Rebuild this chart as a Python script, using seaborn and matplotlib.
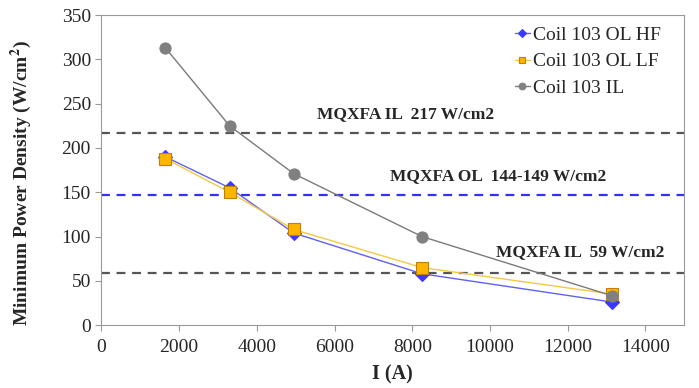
import matplotlib
matplotlib.use("Agg")
import matplotlib.pyplot as plt
import pandas as pd
import seaborn as sns

# Coil 103 minimum power density vs current
current = [1650, 3300, 4950, 8250, 13150]
ol_hf = [190, 155, 104, 58, 26]
ol_lf = [188, 150, 108, 65, 35]
il = [313, 225, 171, 100, 33]

series_names = ["Coil 103 OL HF", "Coil 103 OL LF", "Coil 103 IL"]
limits = [217, 147, 59]
limit_labels = ["MQXFA IL  217 W/cm2", "MQXFA OL  144-149 W/cm2", "MQXFA IL  59 W/cm2"]
limit_label_pos = [(7820, 238), (10200, 168), (12320, 82)]

df = pd.DataFrame({"I": current * 3,
                   "P": ol_hf + ol_lf + il,
                   "series": [n for n in series_names for _ in current]})

sns.set_style("white")
plt.rcParams["font.family"] = ["Liberation Serif", "DejaVu Serif"]
plt.rcParams["mathtext.fontset"] = "stix"

fig, ax = plt.subplots(figsize=(6.99, 3.88), dpi=100)
fig.subplots_adjust(left=0.145, right=0.979, top=0.961, bottom=0.162)

# reference lines
line_colors = ["#555555", "#3333ee", "#555555"]
for y, c in zip(limits, line_colors):
    ax.axhline(y, color=c, linestyle=(0, (4, 3)), linewidth=1.6, zorder=1)
for (x, y), t in zip(limit_label_pos, limit_labels):
    ax.text(x, y, t, ha="center", va="center", fontsize=12.5, fontweight="bold")

palette = {"Coil 103 OL HF": "#3a3aff", "Coil 103 OL LF": "#ffb400", "Coil 103 IL": "#808080"}
markers = {"Coil 103 OL HF": "D", "Coil 103 OL LF": "s", "Coil 103 IL": "o"}
line_cols = {"Coil 103 OL HF": "#6060ee", "Coil 103 OL LF": "#f5c842", "Coil 103 IL": "#7a7a7a"}

for name in series_names:
    sub = df[df["series"] == name]
    sns.lineplot(data=sub, x="I", y="P", ax=ax, color=line_cols[name], linewidth=1,
                 marker=markers[name], markersize=8 if name != "Coil 103 OL HF" else 7,
                 markerfacecolor=palette[name],
                 markeredgecolor="#c08000" if name == "Coil 103 OL LF" else palette[name],
                 markeredgewidth=0.8, label=name, zorder=3)

ax.set_xlim(0, 15000)
ax.set_ylim(0, 350)
ax.set_xticks(range(0, 15000, 2000))
ax.set_yticks(range(0, 351, 50))
ax.tick_params(axis="both", labelsize=14, length=4, color="#999999", direction="out")
ax.tick_params(axis="x", bottom=True, pad=6)
ax.tick_params(axis="y", left=True)
for s in ax.spines.values():
    s.set_color("#999999")

ax.set_xlabel("I (A)", fontsize=14.5, fontweight="bold")
ax.xaxis.set_label_coords(0.5, -0.128)
ax.set_ylabel("Minimum Power Density (W/cm$^{\\mathbf{2}}$)", fontsize=14, fontweight="bold")
ax.yaxis.set_label_coords(-0.115, 0.458)

leg = ax.legend(loc="upper right", frameon=False, fontsize=14, handlelength=0.8,
                handletextpad=0.15, labelspacing=0.45, borderaxespad=0.5,
                markerscale=0.6, bbox_to_anchor=(0.99, 1.02))

plt.savefig("out.png", dpi=100)
